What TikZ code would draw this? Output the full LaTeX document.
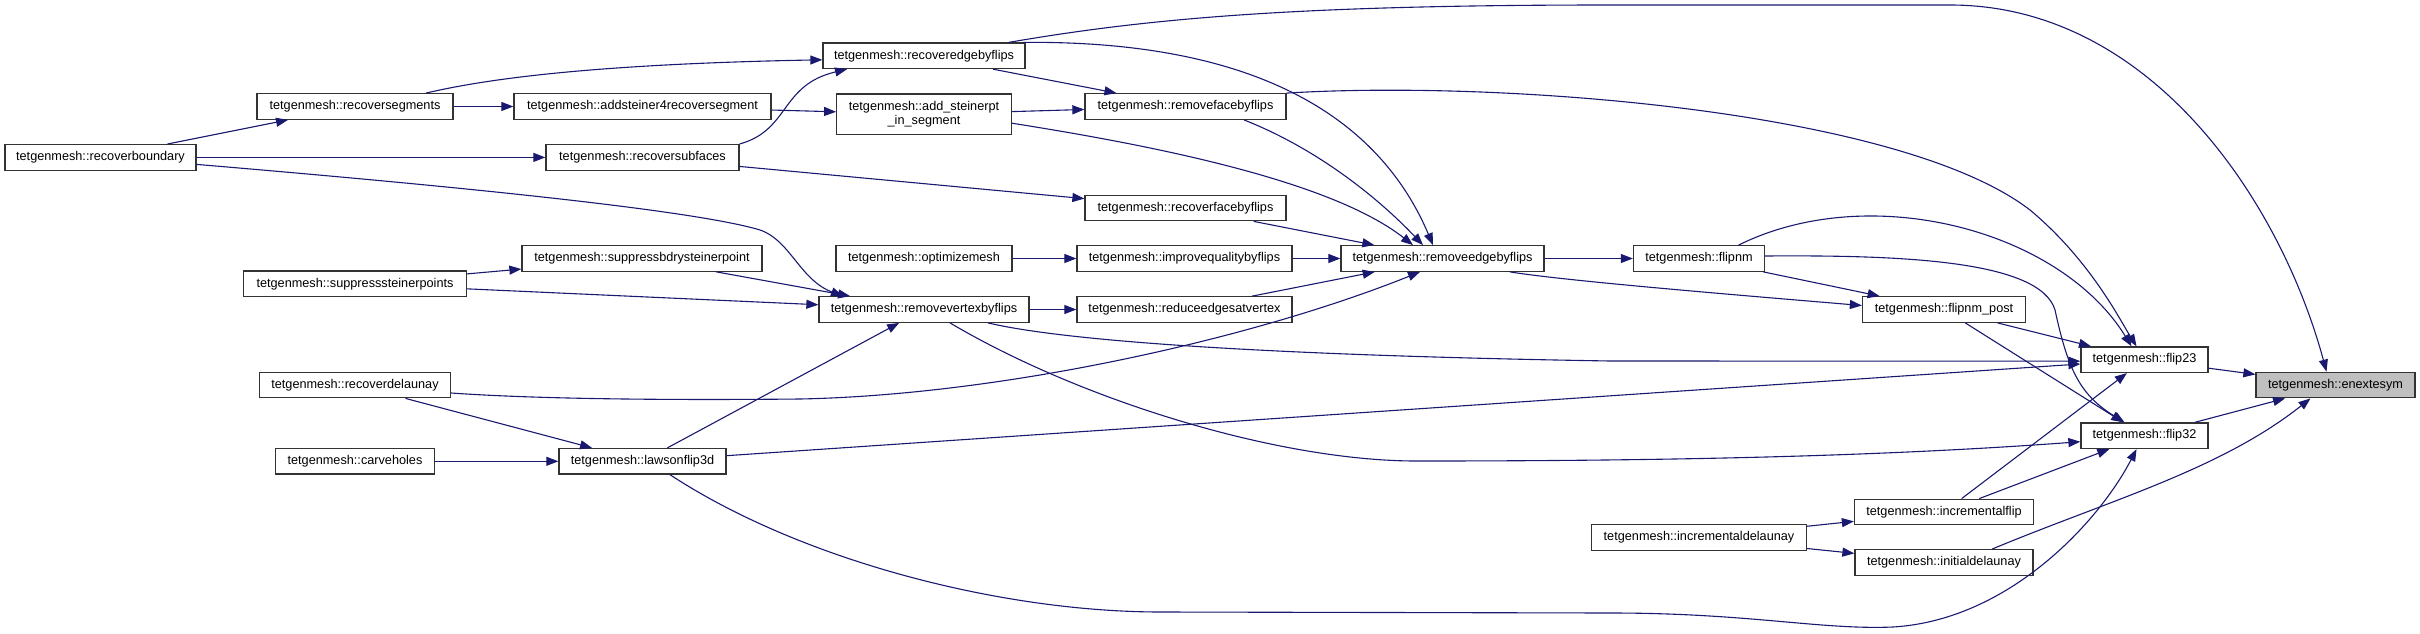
\documentclass[tikz,border=0pt]{standalone}
\usepackage{fontspec}
\setmainfont{Liberation Sans}
\usetikzlibrary{arrows.meta}
\definecolor{edgec}{RGB}{25,25,112}
\definecolor{nodeb}{RGB}{51,51,51}
\definecolor{hl}{RGB}{191,191,191}
\begin{document}
\begin{tikzpicture}[x=1pt,y=-1pt,
  fn/.style={draw=nodeb, line width=1.3pt, fill=white, minimum height=25.5pt, inner sep=0pt,
             font=\fontsize{12.7}{14}\selectfont, text=black},
  edge/.style={draw=edgec, line width=1.1pt, -{Triangle[length=12pt,width=9pt]}}]
\useasboundingbox (0,0) rectangle (2420,634);

% nodes
\node[fn, fill=hl, minimum width=159pt] (ene) at (2335.5,385) {tetgenmesh::enextesym};
\node[fn, minimum width=127pt] (f23) at (2144.5,359.7) {tetgenmesh::flip23};
\node[fn, minimum width=127pt] (f32) at (2144.5,435.7) {tetgenmesh::flip32};
\node[fn, minimum width=131pt] (fnm) at (1699,258.5) {tetgenmesh::flipnm};
\node[fn, minimum width=163pt] (fnmp) at (1944,309.5) {tetgenmesh::flipnm\_post};
\node[fn, minimum width=179pt] (iflip) at (1944,512) {tetgenmesh::incrementalflip};
\node[fn, minimum width=178pt] (idel) at (1944,562.5) {tetgenmesh::initialdelaunay};
\node[fn, minimum width=215pt] (incdel) at (1699,537.5) {tetgenmesh::incrementaldelaunay};
\node[fn, minimum width=203pt] (reb) at (1442.5,258.5) {tetgenmesh::removeedgebyflips};
\node[fn, minimum width=202pt] (rcvedge) at (924,55.8) {tetgenmesh::recoveredgebyflips};
\node[fn, minimum width=174.5pt, minimum height=40.3pt, align=center] (asis) at (924,114.2) {tetgenmesh::add\_steinerpt\\\_in\_segment};
\node[fn, minimum width=201pt] (rfb) at (1185.5,106.5) {tetgenmesh::removefacebyflips};
\node[fn, minimum width=201pt] (rcvface) at (1185.5,208) {tetgenmesh::recoverfacebyflips};
\node[fn, minimum width=176pt] (opt) at (924,258.5) {tetgenmesh::optimizemesh};
\node[fn, minimum width=215pt] (iqf) at (1184.5,258.5) {tetgenmesh::improvequalitybyflips};
\node[fn, minimum width=210pt] (rvf) at (924,309.5) {tetgenmesh::removevertexbyflips};
\node[fn, minimum width=215pt] (rev) at (1184.5,309.5) {tetgenmesh::reduceedgesatvertex};
\node[fn, minimum width=196pt] (rseg) at (355,106.5) {tetgenmesh::recoversegments};
\node[fn, minimum width=257pt] (as4) at (642.5,106.5) {tetgenmesh::addsteiner4recoversegment};
\node[fn, minimum width=193pt] (rsub) at (642.5,157.4) {tetgenmesh::recoversubfaces};
\node[fn, minimum width=191pt] (rbnd) at (100.5,157.4) {tetgenmesh::recoverboundary};
\node[fn, minimum width=240pt] (sbs) at (642,258.4) {tetgenmesh::suppressbdrysteinerpoint};
\node[fn, minimum width=223pt] (ssp) at (355,283.8) {tetgenmesh::suppresssteinerpoints};
\node[fn, minimum width=191pt] (rdel) at (355,385) {tetgenmesh::recoverdelaunay};
\node[fn, minimum width=159pt] (carve) at (355,461.3) {tetgenmesh::carveholes};
\node[fn, minimum width=167pt] (lawson) at (642.5,461.3) {tetgenmesh::lawsonflip3d};

% edges
\draw[edge] (rbnd) -- (rseg);
\draw[edge] (rbnd) -- (rsub);
\draw[edge] ([yshift=-7pt]rbnd.east) .. controls (500,190) and (700,212) .. (760,230)
            .. controls (790,240) and (800,280) .. ([xshift=-81pt]rvf.north);
\draw[edge] (rseg) -- (as4);
\draw[edge] ([xshift=71pt]rseg.north) .. controls (490,78) and (600,64) .. ([yshift=-4pt]rcvedge.west);
\draw[edge] (as4) -- (asis);
\draw[edge] (rsub.north east) .. controls (790,130) and (780,85) .. ([xshift=-77pt]rcvedge.south);
\draw[edge] (rsub) -- (rcvface);
\draw[edge] (ssp) -- (sbs);
\draw[edge] (ssp) -- (rvf);
\draw[edge] (sbs) -- (rvf);
\draw[edge] (rcvedge) -- (rfb);
\draw[edge] ([xshift=-3pt]rcvedge.north east) .. controls (1260,40) and (1380,120) .. ([xshift=-9.5pt]reb.north);
\draw[edge] ([xshift=-17pt]rcvedge.north east) .. controls (1150,18) and (1300,5) .. (1610,5) -- (1950,5)
            .. controls (2150,5) and (2280,200) .. ([xshift=-9pt]ene.north);
\draw[edge] (asis) -- (rfb);
\draw[edge] ([yshift=-9pt]asis.east) .. controls (1150,145) and (1330,180) .. ([xshift=-29.5pt]reb.north);
\draw[edge] ([xshift=58.5pt]rfb.south) .. controls (1320,150) and (1380,200) .. ([xshift=-19.5pt]reb.north);
\draw[edge] (rfb.north east) .. controls (1500,80) and (1900,110) .. (2030,210)
            .. controls (2090,260) and (2120,320) .. ([xshift=-8pt]f23.north);
\draw[edge] (rcvface) -- (reb);
\draw[edge] (opt) -- (iqf);
\draw[edge] (iqf) -- (reb);
\draw[edge] (rvf) -- (rev);
\draw[edge] (rev) -- (reb);
\draw[edge] (reb) -- (fnm);
\draw[edge] ([xshift=67.5pt]reb.south) .. controls (1560,280) and (1700,292) .. ([yshift=4pt]fnmp.west);
\draw[edge] ([xshift=64pt]rvf.south) .. controls (1060,340) and (1250,355) .. (1610,361) -- ([yshift=-1.5pt]f23.west);
\draw[edge] ([xshift=26pt]rvf.south) .. controls (1080,400) and (1280,462) .. (1420,461)
            .. controls (1700,461) and (1900,455) .. ([yshift=-6pt]f32.west);
\draw[edge] (lawson) -- (rvf);
\draw[edge] (lawson) -- (f23);
\draw[edge] ([xshift=27.5pt]lawson.south) .. controls (800,560) and (1000,612) .. (1161,612) -- (1610,613)
            .. controls (1750,613) and (1820,630) .. (1893,627)
            .. controls (2010,620) and (2100,520) .. ([xshift=-8pt]f32.south);
\draw[edge] (rdel) -- (lawson);
\draw[edge] ([yshift=-8pt]rdel.east) .. controls (550,400) and (700,400) .. (800,399)
            .. controls (1000,395) and (1250,340) .. ([xshift=-22.5pt]reb.south);
\draw[edge] (carve) -- (lawson);
\draw[edge] (fnm) -- (fnmp);
\draw[edge] ([xshift=39.5pt]fnm.north) .. controls (1870,180) and (2060,230) .. ([xshift=-13pt]f23.north);
\draw[edge] ([yshift=2.5pt]fnm.east) .. controls (1900,255) and (2040,260) .. (2055,310)
            .. controls (2068,370) and (2080,395) .. ([xshift=-20pt]f32.north);
\draw[edge] (fnmp) -- (f23);
\draw[edge] (fnmp) -- (f32);
\draw[edge] (f23) -- (ene);
\draw[edge] (f32) -- (ene);
\draw[edge] (iflip) -- (f23);
\draw[edge] (iflip) -- (f32);
\draw[edge] (incdel) -- (iflip);
\draw[edge] (incdel) -- (idel);
\draw[edge] ([xshift=48pt]idel.north) .. controls (2110,500) and (2220,470) .. ([xshift=-25pt]ene.south);
\end{tikzpicture}
\end{document}
